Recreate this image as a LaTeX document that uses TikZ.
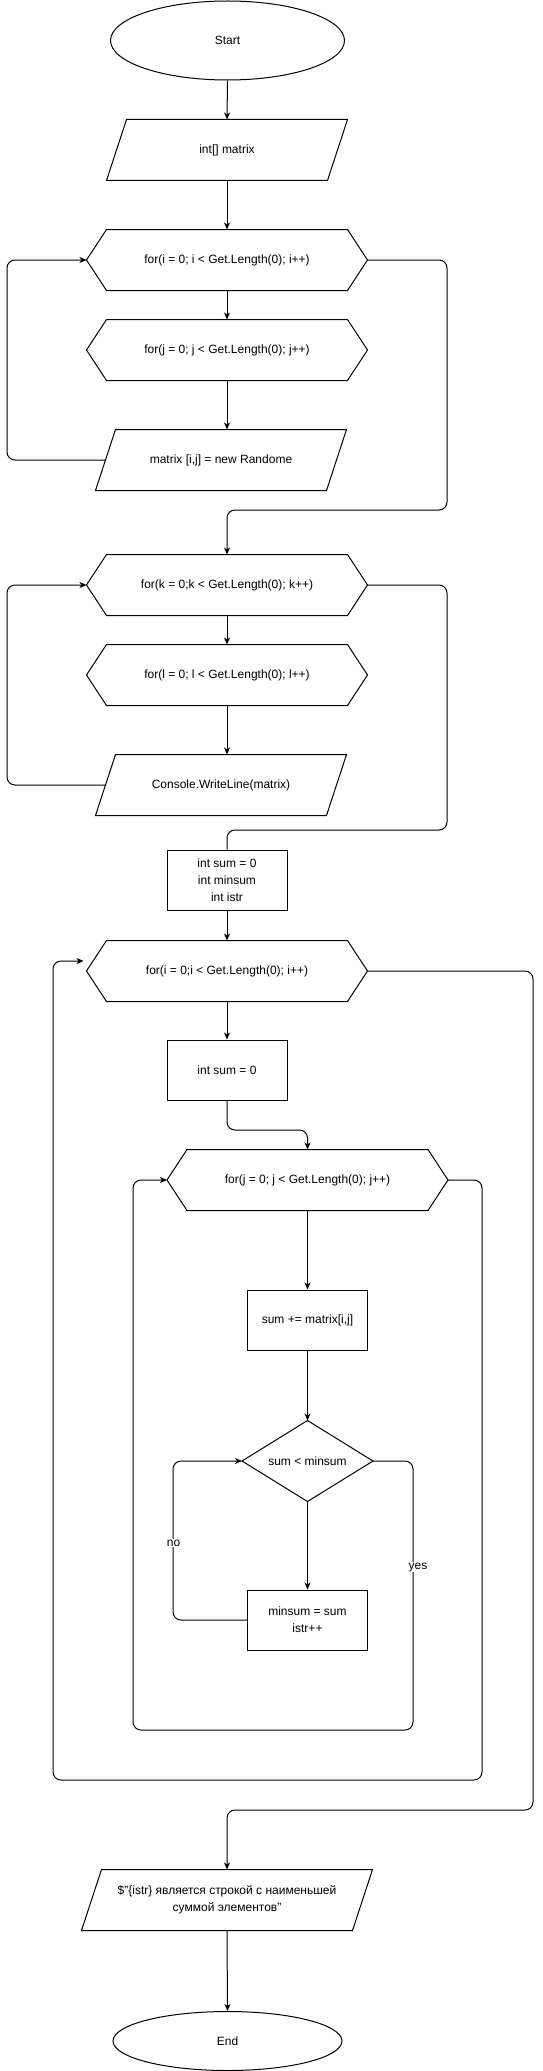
\documentclass[tikz,border=0pt]{standalone}
\usepackage{fontspec}
\setmainfont{Liberation Sans}
\usetikzlibrary{shapes.geometric,arrows.meta}
\newcommand\hexline[1]{\draw[shp] (#1.west) -- ([xshift=20pt]#1.north west) -- ([xshift=-20pt]#1.north east) -- (#1.east) -- ([xshift=-20pt]#1.south east) -- ([xshift=20pt]#1.south west) -- cycle;}
\newcommand\paraline[1]{\draw[shp] ([xshift=20pt]#1.north west) -- (#1.north east) -- ([xshift=-20pt]#1.south east) -- (#1.south west) -- cycle;}
\newcommand\diamline[1]{\draw[shp] (#1.north) -- (#1.east) -- (#1.south) -- (#1.west) -- cycle;}
\begin{document}
\begin{tikzpicture}[x=1pt,y=-1pt, line width=1pt,
 shp/.style={draw=black, line width=1pt},
 box/.style={rectangle, inner sep=0pt, align=center, font=\fontsize{12}{17}\selectfont},
 rbox/.style={box, draw, minimum width=120pt, minimum height=60pt},
 hexn/.style={box, minimum width=280pt, minimum height=60pt},
 paran/.style={box, minimum height=60pt, minimum width=#1},
 arr/.style={-{Stealth[length=7pt,width=6pt,inset=2pt]}, rounded corners=8pt},
 ln/.style={rounded corners=8pt},
 lbl/.style={fill=white, font=\fontsize{12}{14}\selectfont, inner sep=1pt}]

\useasboundingbox (0,0) rectangle (542,2071);

% nodes
\node[box, ellipse, draw, minimum width=234pt, minimum height=79pt] (start) at (227.5,40.5) {Start};
\node[paran=240pt] (p1) at (227,150) {int[] matrix}; \paraline{p1}
\node[hexn] (h1) at (227,260) {for(i = 0; i < Get.Length(0); i++)}; \hexline{h1}
\node[hexn] (h2) at (227,350) {for(j = 0; j < Get.Length(0); j++)}; \hexline{h2}
\node[paran=250pt] (p2) at (221,460) {matrix [i,j] = new Randome}; \paraline{p2}
\node[hexn] (h3) at (227,585) {for(k = 0;k < Get.Length(0); k++)}; \hexline{h3}
\node[hexn] (h4) at (227,675) {for(l = 0; l < Get.Length(0); l++)}; \hexline{h4}
\node[paran=250pt] (p3) at (221,785) {Console.WriteLine(matrix)}; \paraline{p3}
\node[rbox] (r1) at (227,880) {int sum = 0\\int minsum\\int istr};
\node[hexn] (h5) at (227,971) {for(i = 0;i < Get.Length(0); i++)}; \hexline{h5}
\node[rbox] (r2) at (227,1070) {int sum = 0};
\node[hexn] (h6) at (307.5,1180) {for(j = 0; j < Get.Length(0); j++)}; \hexline{h6}
\node[rbox] (r3) at (307.5,1320) {sum += matrix[i,j]};
\node[box, minimum width=130pt, minimum height=80pt] (d1) at (307.5,1461) {sum < minsum}; \diamline{d1}
\node[rbox] (r4) at (307.5,1620) {minsum = sum\\istr++};
\node[paran=290pt] (p4) at (227,1900) {\$\char34\{istr\} является строкой с наименьшей\\суммой элементов\char34}; \paraline{p4}
\node[box, ellipse, draw, minimum width=229pt, minimum height=59pt] (end) at (227.5,2041) {End};

% connectors
\draw[arr] (start.south) -- (p1.north);
\draw[arr] (p1.south) -- (h1.north);
\draw[arr] (h1.south) -- (h2.north);
\draw[arr] (h2.south) -- (h2.south |- p2.north);
\coordinate (lx) at (7,0);
\draw[arr] ([xshift=10pt]p2.west) -| (lx |- h1.west) -- (h1.west);
\coordinate (c1) at (447,510);
\draw[arr] (h1.east) -| (c1) -| (h3.north);
\draw[arr] (h3.south) -- (h4.north);
\draw[arr] (h4.south) -- (h4.south |- p3.north);
\draw[arr] ([xshift=10pt]p3.west) -| (lx |- h3.west) -- (h3.west);
\coordinate (c2) at (447,830);
\draw[ln] (h3.east) -| (c2) -| (r1.north);
\draw[arr] (r1.south) -- (h5.north);
\draw[arr] (h5.south) -- (r2.north);
\coordinate (c3) at (0,1130);
\draw[arr] (r2.south) |- (c3 -| h6.north) -- (h6.north);
\draw[arr] (h6.south) -- (r3.north);
\draw[arr] (r3.south) -- (d1.north);
\draw[arr] (d1.south) -- (r4.north);
\coordinate (nx) at (173,0);
\draw[arr] (r4.west) -| (nx |- d1.west) -- (d1.west);
\coordinate (yc) at (413,1730);
\coordinate (lx2) at (133,0);
\draw[arr] (d1.east) -| (yc) -| (lx2 |- h6.west) -- (h6.west);
\coordinate (c4) at (482,1780);
\coordinate (lx3) at (53,0);
\coordinate (e5) at ([xshift=-3pt,yshift=10pt]h5.west);
\draw[arr] (h6.east) -| (c4) -| (lx3 |- e5) -- (e5);
\coordinate (c5) at (533,1810);
\draw[arr] (h5.east) -| (c5) -| (p4.north);
\draw[arr] (p4.south) -- (end.north);

% labels
\node[lbl] (no) at (173.5,1543) {no};
\node[lbl] (yes) at (418,1567) {yes};
\end{tikzpicture}
\end{document}
